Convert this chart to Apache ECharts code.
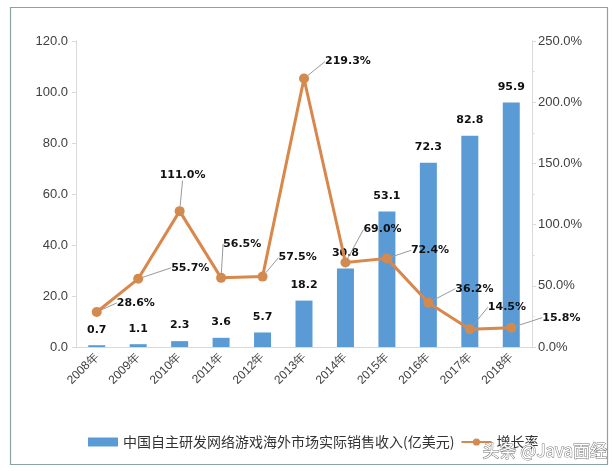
<!DOCTYPE html>
<html>
<head>
<meta charset="utf-8">
<script src="https://cdn.jsdelivr.net/npm/echarts@6/dist/echarts.min.js"></script>
<style>html,body{margin:0;padding:0;background:#fff;}#c{width:612px;height:471px;}</style>
</head>
<body>
<div id="c"></div>
<script>
var categories = ['2008年','2009年','2010年','2011年','2012年','2013年','2014年','2015年','2016年','2017年','2018年'];
var revenue = [0.7, 1.1, 2.3, 3.6, 5.7, 18.2, 30.8, 53.1, 72.3, 82.8, 95.9];
var growth = [28.6, 55.7, 111.0, 56.5, 57.5, 219.3, 69.0, 72.4, 36.2, 14.5, 15.8];
var revenueName = '中国自主研发网络游戏海外市场实际销售收入(亿美元)';
var growthName = '增长率';
var leftTicks = {min: 0, max: 120, interval: 20};
var rightTicks = {min: 0, max: 250, interval: 50};

// label offsets (layout only)
var growthLabelOffsets = [[15,-9],[28,-11],[-25,-36],[-3,-34],[11,-19],[16,-17],[13,-33],[19,-8],[22,-14],[13,-22],[26,-10]];

var chart = echarts.init(document.getElementById('c'));
var axisFont = {color: '#404040', fontSize: 13, fontFamily: 'Liberation Sans, Arial, sans-serif'};
chart.setOption({
  animation: false,
  grid: {left: 76, right: 80, top: 41, bottom: 124},
  legend: {
    left: 83, top: 430,
    itemGap: 6,
    textStyle: {fontSize: 14, color: '#333', fontFamily: 'Noto Sans CJK SC, sans-serif'},
    data: [
      {name: revenueName, icon: 'rect', itemStyle: {color: '#5b9bd5'}},
      {name: growthName}
    ],
    itemWidth: 30, itemHeight: 9
  },
  xAxis: {
    type: 'category', data: categories,
    axisLine: {lineStyle: {color: '#d9d9d9'}},
    axisTick: {show: false},
    axisLabel: {rotate: 45, color: '#404040', fontSize: 12, fontFamily: 'Liberation Sans, Arial, sans-serif', margin: 8}
  },
  yAxis: [
    {
      type: 'value', min: leftTicks.min, max: leftTicks.max, interval: leftTicks.interval,
      axisLine: {show: true, lineStyle: {color: '#d9d9d9'}},
      axisTick: {show: true, length: 4, lineStyle: {color: '#d9d9d9'}},
      splitLine: {show: false},
      axisLabel: Object.assign({formatter: function(v){return v.toFixed(1);}, margin: 8}, axisFont)
    },
    {
      type: 'value', min: rightTicks.min, max: rightTicks.max, interval: rightTicks.interval,
      axisLine: {show: true, lineStyle: {color: '#d9d9d9'}},
      axisTick: {show: true, length: 4, lineStyle: {color: '#d9d9d9'}},
      minorTick: {show: true, splitNumber: 2, length: 3, lineStyle: {color: '#e3e3e3'}},
      splitLine: {show: false},
      axisLabel: Object.assign({formatter: function(v){return v.toFixed(1) + '%';}, margin: 6}, axisFont)
    }
  ],
  series: [
    {
      name: revenueName, type: 'bar', data: revenue, yAxisIndex: 0,
      barWidth: 17,
      itemStyle: {color: '#5b9bd5'},
      label: {
        show: true, position: 'top', distance: 10,
        formatter: function(p){return p.value.toFixed(1);},
        color: '#111', fontWeight: 'bold', fontSize: 11, fontFamily: 'DejaVu Sans, sans-serif'
      }
    },
    {
      name: growthName, type: 'line', data: growth, yAxisIndex: 1,
      symbol: 'circle', symbolSize: 10,
      lineStyle: {color: '#d9874a', width: 3},
      itemStyle: {color: '#d38a4f'},
      z: 5,
      label: {
        show: true, position: 'right', distance: 0, align: 'left',
        formatter: function(p){return p.value.toFixed(1) + '%';},
        color: '#111', fontWeight: 'bold', fontSize: 11, fontFamily: 'DejaVu Sans, sans-serif'
      },
      labelLine: {show: true, lineStyle: {color: '#999', width: 1}, length2: 0},
      labelLayout: function(params){
        var o = growthLabelOffsets[params.dataIndex];
        return {dx: o[0], dy: o[1]};
      }
    }
  ],
  graphic: [
    {type: 'rect', left: 8, top: 5, shape: {width: 597, height: 457}, style: {fill: 'none', stroke: '#8aa3a3', lineWidth: 1.2}, silent: true},
    {type: 'text', left: 482, top: 442, style: {text: '头条 @Java面经', fontSize: 17, fill: '#fff', stroke: '#777', lineWidth: 1, fontFamily: 'Noto Sans CJK SC, sans-serif'}, z: 100}
  ]
});
</script>
</body>
</html>
